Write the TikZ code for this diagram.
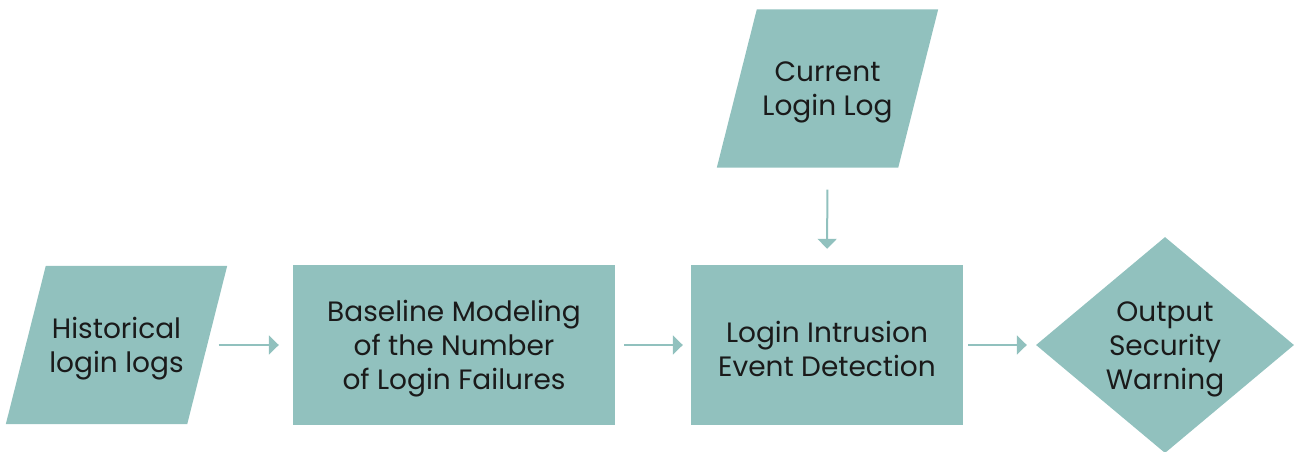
\documentclass[tikz,border=0pt]{standalone}
\usepackage{fontspec}
\setmainfont{Poppins}
\usetikzlibrary{shapes.geometric,arrows.meta,backgrounds}
\definecolor{teal}{HTML}{91C1BE}
\definecolor{ink}{HTML}{1A1A1A}
\tikzset{
  txt/.style={text=ink, align=center, inner sep=0pt, yshift=-4pt,
    font=\fontsize{28}{34}\selectfont},
  base/.style={inner sep=0pt},
  procbox/.style={base, fill=teal, rectangle, minimum height=160pt},
  iobox/.style={base, rectangle, minimum height=158pt, minimum width=181pt},
  decbox/.style={base, fill=teal, diamond, minimum width=258pt, minimum height=216pt},
  flow/.style={draw=teal, line width=2pt, -{Triangle[length=10pt,width=19pt]}},
}
\newcommand\slantfill[1]{%
  \fill[teal] ([xshift=20pt]#1.north west) -- ([xshift=20pt]#1.north east)
    -- ([xshift=-20pt]#1.south east) -- ([xshift=-20pt]#1.south west) -- cycle;}
\begin{document}
\begin{tikzpicture}[x=1pt,y=-1pt]
\useasboundingbox (0,0) rectangle (1295,451);
\node[iobox, label={[txt,name=histT]center:Historical\\login logs}] (hist) at (116.5,345) {};
\node[procbox, minimum width=322pt, label={[txt,name=basemT]center:Baseline Modeling\\of the Number\\of Login Failures}] (basem) at (454,345) {};
\node[procbox, minimum width=272pt, label={[txt,name=detectT]center:Login Intrusion\\Event Detection}] (detect) at (827,345) {};
\node[iobox, label={[txt,name=curT]center:Current\\Login Log}] (cur) at (827.5,88.5) {};
\node[decbox, label={[txt,name=warnT]center:Output\\Security\\Warning}] (warn) at (1165,345) {};
\begin{scope}[on background layer]
\slantfill{hist}
\slantfill{cur}
\end{scope}
\draw[flow, shorten <=11.5pt, shorten >=14pt] (hist.east) -- (basem.west);
\draw[flow, shorten <=9pt, shorten >=8pt] (basem.east) -- (detect.west);
\draw[flow, shorten <=5pt, shorten >=9pt] (detect.east) -- (warn.west);
\draw[flow, shorten <=22pt, shorten >=16pt] (cur.south) -- (detect.north);
\end{tikzpicture}
\end{document}
